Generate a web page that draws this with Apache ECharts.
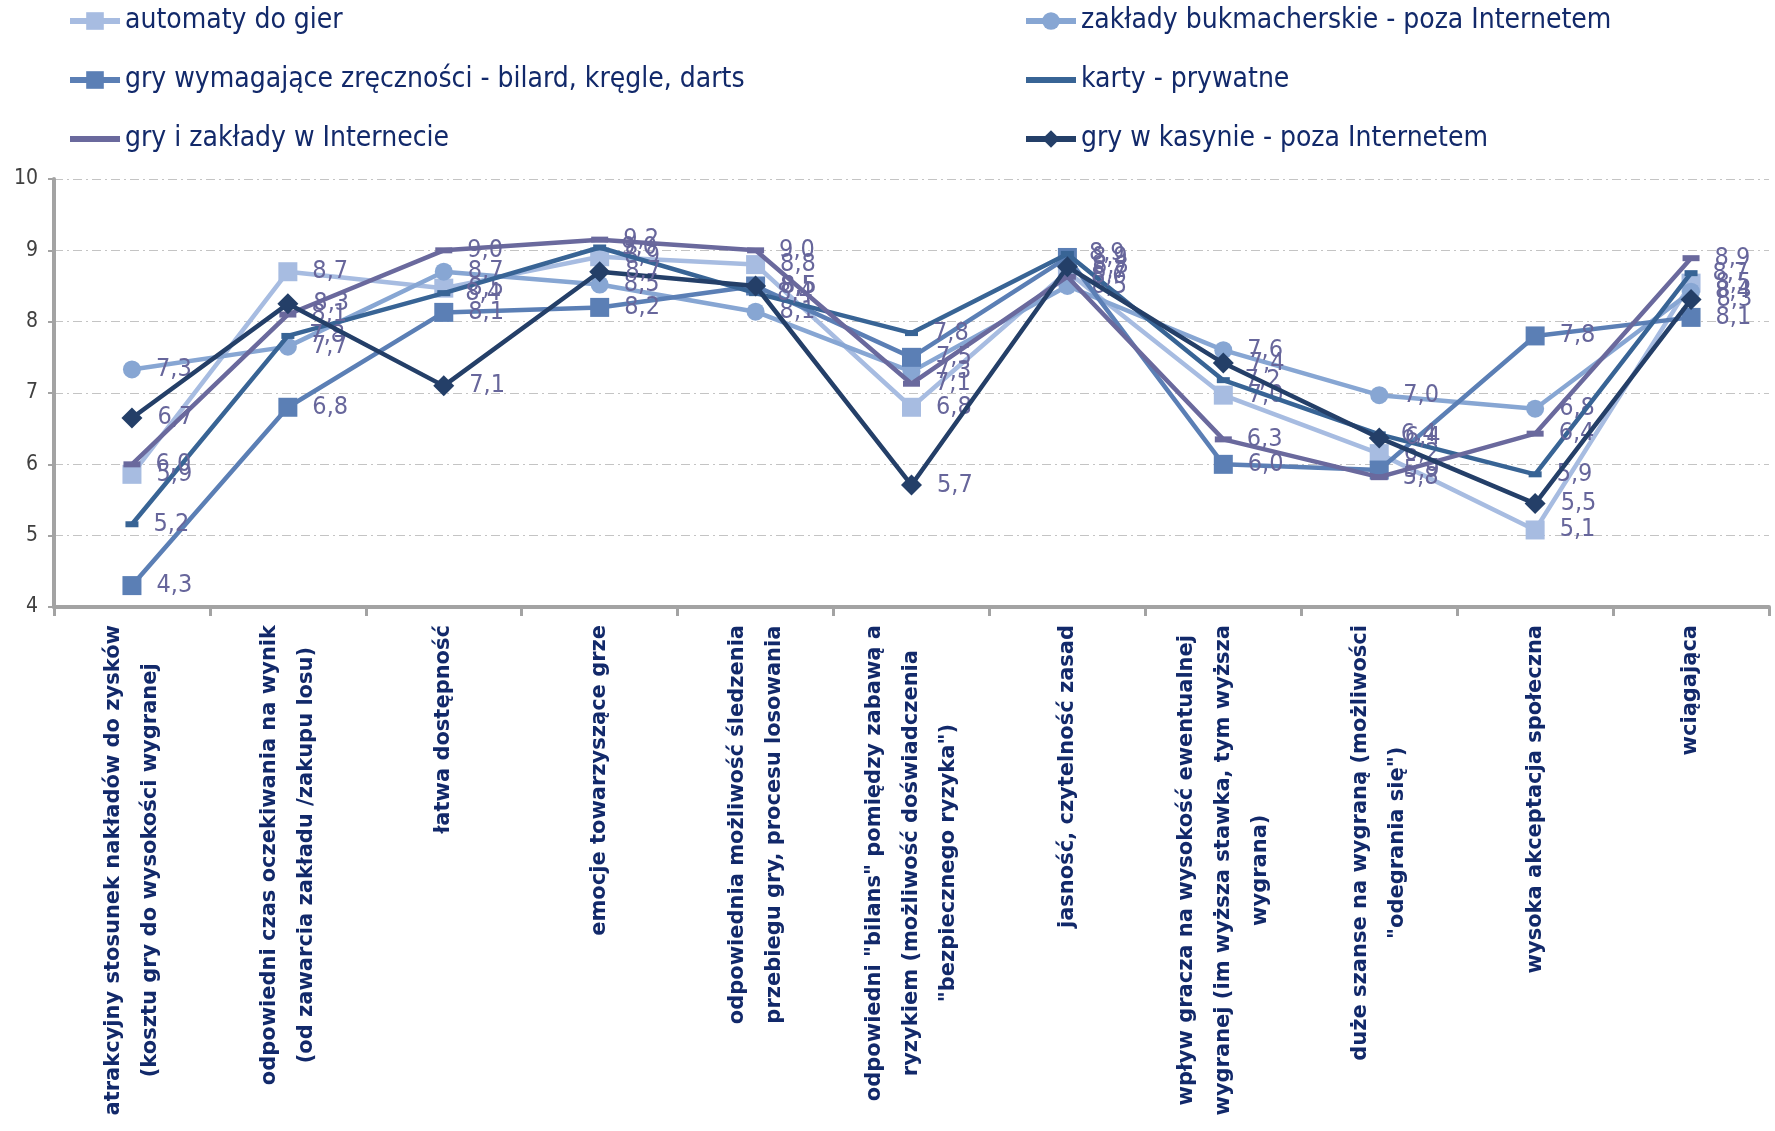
<!DOCTYPE html>
<html>
<head>
<meta charset="utf-8">
<script src="https://cdn.jsdelivr.net/npm/echarts@6/dist/echarts.min.js"></script>
<style>
html,body{margin:0;padding:0;background:#fff;}
#chart{width:1775px;height:1131px;}
</style>
</head>
<body>
<div id="chart"></div>
<script>
const categories = [
  'atrakcyjny stosunek nakładów do zysków\n(kosztu gry do wysokości wygranej',
  'odpowiedni czas oczekiwania na wynik\n(od zawarcia zakładu /zakupu losu)',
  'łatwa dostępność',
  'emocje towarzyszące grze',
  'odpowiednia możliwość śledzenia\nprzebiegu gry, procesu losowania',
  'odpowiedni "bilans" pomiędzy zabawą a\nryzykiem (możliwość doświadczenia\n"bezpiecznego ryzyka")',
  'jasność, czytelność zasad',
  'wpływ gracza na wysokość ewentualnej\nwygranej (im wyższa stawka, tym wyższa\nwygrana)',
  'duże szanse na wygraną (możliwości\n"odegrania się")',
  'wysoka akceptacja społeczna',
  'wciągająca'
];
const seriesNames = [
  'automaty do gier',
  'zakłady bukmacherskie - poza Internetem',
  'gry wymagające zręczności - bilard, kręgle, darts',
  'karty - prywatne',
  'gry i zakłady w Internecie',
  'gry w kasynie - poza Internetem'
];
const automaty   = [5.86, 8.70, 8.47, 8.91, 8.80, 6.80, 8.70, 6.97, 6.15, 5.08, 8.54];
const zaklady    = [7.33, 7.65, 8.70, 8.52, 8.14, 7.30, 8.50, 7.60, 6.97, 6.78, 8.42];
const zrecznosc  = [4.30, 6.80, 8.13, 8.20, 8.50, 7.50, 8.90, 6.00, 5.92, 7.80, 8.06];
const karty      = [5.16, 7.80, 8.40, 9.04, 8.40, 7.84, 8.95, 7.18, 6.42, 5.86, 8.68];
const internet   = [6.00, 8.10, 9.00, 9.15, 9.00, 7.13, 8.63, 6.35, 5.82, 6.43, 8.89];
const kasyno     = [6.65, 8.25, 7.10, 8.70, 8.50, 5.71, 8.77, 7.42, 6.37, 5.45, 8.31];
const yTicks = [4, 5, 6, 7, 8, 9, 10];

const colors = ['#a7bce1', '#87a6d3', '#5b7fb5', '#386495', '#6a699d', '#243f68'];
const symbols = ['rect', 'circle', 'rect', 'rect', 'rect', 'diamond'];
const symbolSizes = [19, 18, 19, [13, 6], [17, 6], 21];
const allData = [automaty, zaklady, zrecznosc, karty, internet, kasyno];

const condensed = '"DejaVu Sans Condensed", "DejaVu Sans", sans-serif';
const labelColor = '#67669b';
const navy = '#12296a';

const chart = echarts.init(document.getElementById('chart'), null, {renderer: 'canvas'});

const series = allData.map((d, i) => ({
  name: seriesNames[i],
  type: 'line',
  data: d,
  symbol: symbols[i],
  symbolSize: symbolSizes[i],
  showAllSymbol: true,
  animation: false,
  lineStyle: {color: colors[i], width: 4.5},
  itemStyle: {color: colors[i], borderWidth: 0},
  emphasis: {disabled: true},
  label: {
    show: true,
    position: 'right',
    distance: 15,
    color: labelColor,
    fontFamily: condensed,
    fontSize: 25,
    formatter: p => p.value.toFixed(1).replace('.', ',')
  },
  z: 2 + i
}));

const legendCommon = {
  orient: 'vertical',
  top: 1,
  itemWidth: 50,
  itemHeight: 22,
  itemGap: 29,
  selectedMode: false,
  lineStyle: {width: 6},
  textStyle: {color: navy, fontFamily: condensed, fontSize: 28, lineHeight: 30}
};
const lineOnly = name => ({name: name, itemStyle: {opacity: 0}});

chart.setOption({
  backgroundColor: '#fff',
  animation: false,
  color: colors,
  legend: [
    Object.assign({}, legendCommon, {left: 62, data: [seriesNames[0], seriesNames[2], lineOnly(seriesNames[4])]}),
    Object.assign({}, legendCommon, {left: 1018, data: [seriesNames[1], lineOnly(seriesNames[3]), seriesNames[5]]})
  ],
  grid: {left: 54, right: 6, top: 179, bottom: 524, containLabel: false},
  xAxis: {
    type: 'category',
    data: categories,
    boundaryGap: true,
    axisLine: {show: true, lineStyle: {color: '#a3a3a3', width: 4}},
    axisTick: {show: true, length: 9, lineStyle: {color: '#a3a3a3', width: 3}},
    axisLabel: {
      interval: 0,
      rotate: 90,
      margin: 18,
      formatter: v => v.split('\n').map(l => '{c|' + l + '}').join('\n'),
      rich: {
        c: {align: 'center', fontWeight: 'bold', fontSize: 21, lineHeight: 37,
            fontFamily: '"DejaVu Sans", sans-serif', color: navy}
      }
    },
    splitLine: {show: false}
  },
  yAxis: {
    type: 'value',
    min: yTicks[0],
    max: yTicks[yTicks.length - 1],
    interval: 1,
    axisLine: {show: true, lineStyle: {color: '#a3a3a3', width: 4}},
    axisTick: {show: true, length: 6, lineStyle: {color: '#a3a3a3', width: 2}},
    axisLabel: {color: '#404040', fontFamily: condensed, fontSize: 21, margin: 16},
    splitLine: {show: true, lineStyle: {color: '#c4c4c4', width: 1, type: [9, 4, 2, 4]}}
  },
  series: series
});
</script>
</body>
</html>
